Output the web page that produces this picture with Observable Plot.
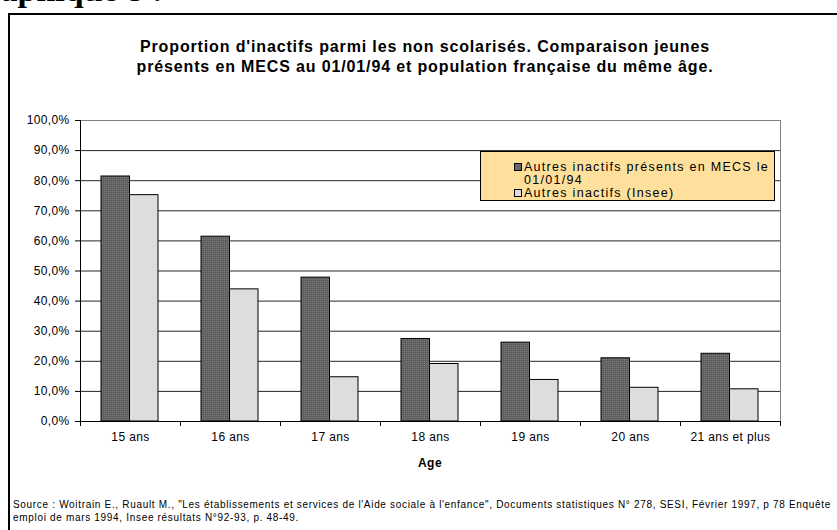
<!DOCTYPE html>
<html>
<head>
<meta charset="utf-8">
<script src="https://cdn.jsdelivr.net/npm/d3@7"></script>
<script src="https://cdn.jsdelivr.net/npm/@observablehq/plot@0.6"></script>
<style>
  html, body { margin: 0; padding: 0; background: #fff; }
  body { width: 837px; height: 530px; position: relative; overflow: hidden; font-family: "Liberation Sans", Arial, sans-serif; color: #000; }
  #frame { position: absolute; left: 8px; top: 13px; width: 900px; height: 600px; border-left: 2px solid #000; border-top: 2px solid #000; }
  #graph { position: absolute; left: -41px; top: -27px; font-family: "Liberation Serif", "Times New Roman", serif; font-weight: bold; font-size: 34px; line-height: 34px; white-space: nowrap; }
  #title { position: absolute; left: 0; width: 850px; top: 37px; text-align: center; font-weight: bold; font-size: 16px; line-height: 20px; }
  #title span, #source span { display: inline-block; white-space: nowrap; }
  #chart { position: absolute; left: 0; top: 95px; }
  #age { position: absolute; left: 80px; width: 700px; top: 456px; text-align: center; font-weight: bold; font-size: 12px; letter-spacing: 0.5px; }
  #legend { position: absolute; left: 480px; top: 151px; width: 295px; height: 50px; background: #FEDF9C; border: 1px solid #000; box-sizing: border-box; font-size: 12.5px; line-height: 13px; }
  .li { position: absolute; left: 33px; white-space: nowrap; }
  .lt { display: inline-block; }
  .sw { display: inline-block; width: 8px; height: 8px; border: 1px solid #000; margin-right: 2px; vertical-align: 0px; box-sizing: border-box; }
  #source { position: absolute; left: 13px; top: 498px; font-size: 10px; line-height: 13px; white-space: nowrap; }
</style>
</head>
<body>
<div id="frame"></div>
<div id="graph">Graphique 8 :</div>
<div id="title"></div>
<div id="chart"></div>
<div id="age"></div>
<div id="legend"></div>
<div id="source"></div>
<script>
const ages = ["15 ans", "16 ans", "17 ans", "18 ans", "19 ans", "20 ans", "21 ans et plus"];
const mecs = [81.4, 61.4, 47.8, 27.4, 26.2, 21.0, 22.5];
const insee = [75.2, 43.9, 14.7, 19.1, 13.8, 11.2, 10.7];
const seriesNames = ["Autres inactifs présents en MECS le 01/01/94", "Autres inactifs (Insee)"];
const yTicks = [0, 10, 20, 30, 40, 50, 60, 70, 80, 90, 100];
const titleLines = ["Proportion d'inactifs parmi les non scolarisés. Comparaison jeunes", "présents en MECS au 01/01/94 et population française du même âge."];
const xLabel = "Age";
const sourceLines = ["Source : Woitrain E., Ruault M., \"Les établissements et services de l'Aide sociale à l'enfance\", Documents statistiques N° 278, SESI, Février 1997, p 78 Enquête", "emploi de mars 1994, Insee résultats N°92-93,  p. 48-49."];

const rows = ages.map((age, i) => ({i, age, mecs: mecs[i], insee: insee[i]}));
const darkFill = "#666666";
const lightFill = "#DDDDDD";
const esc = s => s.replace(/&/g, "&amp;").replace(/</g, "&lt;");

document.getElementById("title").innerHTML = titleLines.map(s => `<span>${esc(s)}</span>`).join("<br>");
document.getElementById("age").textContent = xLabel;
document.getElementById("source").innerHTML = sourceLines.map(s => `<span>${esc(s)}</span>`).join("<br>");
const leg = document.getElementById("legend");
leg.innerHTML =
  `<div class="li" style="top:9px"><span class="sw" style="background:${darkFill}"></span><span class="lt" id="l1">Autres inactifs présents en MECS le</span></div>` +
  `<div class="li" style="top:22px; left:43px"><span class="lt">01/01/94</span></div>` +
  `<div class="li" style="top:35px"><span class="sw" style="background:${lightFill}"></span><span class="lt">${esc(seriesNames[1])}</span></div>`;

const fmt = d => d.toFixed(1).replace(".", ",") + "%";

const chart = Plot.plot({
  width: 837,
  height: 385,
  marginLeft: 80,
  marginRight: 57,
  marginTop: 25,
  marginBottom: 59,
  style: {fontFamily: "'Liberation Sans', Arial, sans-serif", fontSize: "12px", background: "transparent", color: "#000", overflow: "visible"},
  x: {type: "linear", domain: [0, ages.length]},
  y: {domain: [0, 100]},
  marks: [
    Plot.ruleY(yTicks.filter(t => t > 0 && t < 100), {stroke: "#000", strokeWidth: 1, strokeOpacity: 0.85}),
    Plot.ruleY([100], {stroke: "#808080"}),
    Plot.ruleX([ages.length], {stroke: "#808080"}),
    Plot.rectY(rows, {x1: d => d.i, x2: d => d.i + 1, y: "mecs", fill: "url(#dots)", stroke: "#000", strokeWidth: 1, insetLeft: 21, insetRight: 50.5}),
    Plot.rectY(rows, {x1: d => d.i, x2: d => d.i + 1, y: "insee", fill: lightFill, stroke: "#000", strokeWidth: 1, insetLeft: 49.5, insetRight: 22}),
    Plot.axisY({ticks: yTicks, tickFormat: fmt, tickSize: 5, tickPadding: 6, label: null, fontSize: 12}),
    Plot.ruleX([0], {stroke: "#000"}),
    Plot.ruleY([0], {stroke: "#000"}),
    Plot.axisX({ticks: d3.range(0, ages.length + 1), tickFormat: () => "", tickSize: 5, label: null}),
    Plot.axisX({ticks: d3.range(ages.length).map(i => i + 0.5), tickFormat: v => ages[Math.floor(v)], tickSize: 0, tickPadding: 11, label: null, fontSize: 12})
  ]
});

const ns = "http://www.w3.org/2000/svg";
const defs = document.createElementNS(ns, "defs");
defs.innerHTML = `<pattern id="dots" width="2" height="2" patternUnits="userSpaceOnUse"><rect width="2" height="2" fill="#5f5f5f"/><rect width="1" height="1" fill="#7c7c7c"/></pattern>`;
chart.insertBefore(defs, chart.firstChild);
document.getElementById("chart").appendChild(chart);

// widen text to match the reference's looser letter spacing
function spacingFor(el, target) {
  el.style.letterSpacing = "0px";
  const w = el.getBoundingClientRect().width;
  return (target - w) / el.textContent.length;
}
const tSpans = document.querySelectorAll("#title span");
const tls = spacingFor(tSpans[0], 570);
tSpans.forEach(s => s.style.letterSpacing = tls + "px");
const sSpans = document.querySelectorAll("#source span");
const sls = spacingFor(sSpans[0], 818);
sSpans.forEach(s => s.style.letterSpacing = sls + "px");
const lls = spacingFor(document.getElementById("l1"), 245);
leg.querySelectorAll(".lt").forEach(s => s.style.letterSpacing = lls + "px");

const allTexts = Array.from(chart.querySelectorAll("text"));
const yTexts = allTexts.filter(t => /%$/.test(t.textContent));
const xTexts = allTexts.filter(t => ages.includes(t.textContent));
function fitGroup(texts, sample, target) {
  const t = texts.find(x => x.textContent === sample);
  if (!t) return;
  const w = t.getBBox().width;
  const ls = Math.max(0, (target - w) / sample.length);
  texts.forEach(x => { x.style.letterSpacing = ls + "px"; });
}
fitGroup(yTexts, "100,0%", 43);
fitGroup(xTexts, "21 ans et plus", 80);
</script>
</body>
</html>
